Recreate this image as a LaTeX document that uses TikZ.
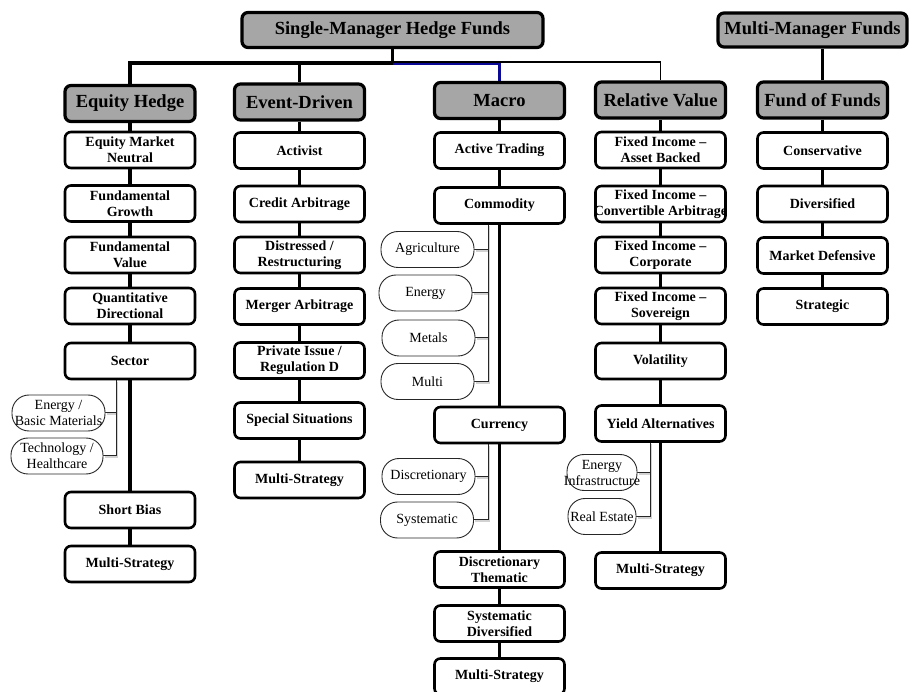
\documentclass[tikz,border=0pt]{standalone}
\usepackage{fontspec}
\setmainfont{Liberation Serif}
\pgfdeclarelayer{background}
\pgfsetlayers{background,main}
\definecolor{hfgray}{RGB}{166,166,166}
\definecolor{hfblue}{RGB}{10,10,150}
\tikzset{
  gbox/.style={draw, line width=3.2pt, rounded corners=6pt, fill=hfgray,
    minimum width=130pt, minimum height=36pt, inner sep=0pt,
    font=\fontsize{18.5}{21}\selectfont\bfseries},
  cbox/.style={draw, line width=2.6pt, rounded corners=6pt, fill=white,
    minimum width=130pt, minimum height=36pt, inner sep=0pt, align=center,
    font=\fontsize{14}{16}\selectfont\bfseries},
  sbox/.style={draw=black!85, line width=0.9pt, rounded corners=17pt, fill=white,
    minimum width=93pt, minimum height=36pt, inner sep=0pt, align=center,
    font=\fontsize{14}{16}\selectfont},
  conn/.style={line width=3.2pt},
  bus/.style={draw=black!85, line width=1pt},
  busshadow/.style={draw=gray!35, line width=1.8pt, transform canvas={shift={(1.4pt,-1.4pt)}}}
}
\begin{document}
\begin{tikzpicture}[x=1pt,y=-1pt]
\useasboundingbox (0,0) rectangle (911,692);
% top level
\node[gbox, minimum width=301pt, minimum height=35pt] (smhf) at (392.5,30) {Single-Manager Hedge Funds};
\node[gbox, minimum width=189pt, minimum height=34pt] (mmf) at (812.5,30) {Multi-Manager Funds};
% level 2
\node[gbox] (eh) at (130,103.5) {Equity Hedge};
\node[gbox] (ed) at (299.5,102) {Event-Driven};
\node[gbox] (ma) at (499.5,100.5) {Macro};
\node[gbox] (rv) at (660.5,100) {Relative Value};
\node[gbox] (ff) at (822.5,100) {Fund of Funds};
% Equity Hedge
\node[cbox] (emn) at (130,150) {Equity Market\\Neutral};
\node[cbox] (fg) at (130,203.5) {Fundamental\\Growth};
\node[cbox] (fv) at (130,255) {Fundamental\\Value};
\node[cbox] (qd) at (130,306) {Quantitative\\Directional};
\node[cbox] (sec) at (130,361) {Sector};
\node[cbox] (sbias) at (130,510) {Short Bias};
\node[cbox] (ehms) at (130,564) {Multi-Strategy};
\node[sbox] (ebm) at (58.5,413) {Energy /\\\makebox[0pt]{Basic Materials}};
\node[sbox, minimum width=92pt] (th) at (57,456) {Technology /\\Healthcare};
% Event-Driven
\node[cbox] (act) at (299.5,150.5) {Activist};
\node[cbox] (ca) at (299.5,204) {Credit Arbitrage};
\node[cbox] (dr) at (299.5,255) {Distressed /\\Restructuring};
\node[cbox] (mer) at (299.5,306.5) {Merger Arbitrage};
\node[cbox] (pi) at (299.5,360.5) {Private Issue /\\Regulation D};
\node[cbox] (ss) at (299.5,420.5) {Special Situations};
\node[cbox] (edms) at (299.5,480) {Multi-Strategy};
% Macro
\node[cbox] (atr) at (499.5,150.5) {Active Trading};
\node[cbox] (com) at (499.5,205.5) {Commodity};
\node[sbox] (agr) at (427.5,249.5) {Agriculture};
\node[sbox] (en) at (425.5,293) {Energy};
\node[sbox] (met) at (428.5,338) {Metals};
\node[sbox] (mul) at (427.5,381.5) {Multi};
\node[cbox] (cur) at (499.5,425) {Currency};
\node[sbox] (dis) at (428.5,476.5) {Discretionary};
\node[sbox] (sys) at (427,520) {Systematic};
\node[cbox] (dt) at (499.5,569.5) {Discretionary\\Thematic};
\node[cbox] (sd) at (499.5,623.5) {Systematic\\Diversified};
\node[cbox] (mams) at (499.5,676.5) {Multi-Strategy};
% Relative Value
\node[cbox] (fiab) at (660.5,150) {Fixed Income –\\Asset Backed};
\node[cbox] (fica) at (660.5,204) {Fixed Income –\\\makebox[0pt]{Convertible Arbitrage}};
\node[cbox] (fic) at (660.5,255) {Fixed Income –\\Corporate};
\node[cbox] (fis) at (660.5,306) {Fixed Income –\\Sovereign};
\node[cbox] (vol) at (660.5,361) {Volatility};
\node[cbox] (ya) at (660.5,423.5) {Yield Alternatives};
\node[cbox] (rvms) at (660.5,570.5) {Multi-Strategy};
\node[sbox, minimum width=70pt] (ei) at (602,472.5) {Energy\\\makebox[0pt]{Infrastructure}};
\node[sbox, minimum width=68pt] (re) at (602,516.5) {Real Estate};
% Fund of Funds
\node[cbox] (con) at (822.5,150.5) {Conservative};
\node[cbox] (dv) at (822.5,204) {Diversified};
\node[cbox] (md) at (822.5,255.5) {Market Defensive};
\node[cbox] (stg) at (822.5,306.5) {Strategic};

\begin{pgfonlayer}{background}
% top bus
\draw[conn] (smhf.south) -- ++(0,14) coordinate (j);
\draw[conn] (eh.north) |- (j);
\draw[conn] (ed.north) -- (ed.north |- j);
\draw[hfblue, line width=2.2pt] ([yshift=-1.2pt]j) -| (ma.north);
\draw[line width=1.4pt] ([yshift=1pt]j) -| (rv.north);
\draw[conn] (ff.north) -- (ff.north |- mmf.south);
% columns
\foreach \a/\b in {eh/emn, emn/fg, fg/fv, fv/qd, qd/sec, sec/sbias, sbias/ehms,
  ed/act, act/ca, ca/dr, dr/mer, mer/pi, pi/ss, ss/edms,
  ma/atr, atr/com, com/cur, cur/dt, dt/sd, sd/mams,
  rv/fiab, fiab/fica, fica/fic, fic/fis, fis/vol, vol/ya, ya/rvms,
  ff/con, con/dv, dv/md, md/stg}
  \draw[conn] (\a.south) -- (\b.north);
% sub-buses
\coordinate (secb) at ([xshift=-14pt]sec.south);
\coordinate (comb) at ([xshift=-11.5pt]com.south);
\coordinate (curb) at ([xshift=-11.5pt]cur.south);
\coordinate (yab) at ([xshift=-10.5pt]ya.south);
\foreach \p/\c in {secb/ebm, secb/th, comb/agr, comb/en, comb/met, comb/mul,
  curb/dis, curb/sys, yab/ei, yab/re}
  \draw[busshadow] (\p) |- (\c.east);
\foreach \p/\c in {secb/ebm, secb/th, comb/agr, comb/en, comb/met, comb/mul,
  curb/dis, curb/sys, yab/ei, yab/re}
  \draw[bus] (\p) |- (\c.east);
\end{pgfonlayer}
\end{tikzpicture}
\end{document}
